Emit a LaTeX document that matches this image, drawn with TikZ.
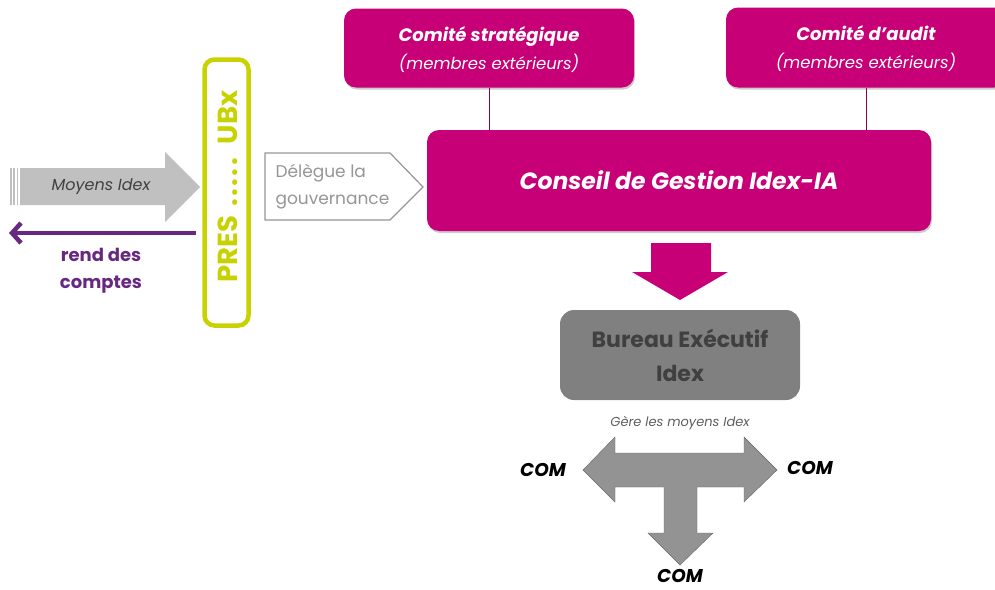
\documentclass[tikz,border=0pt]{standalone}
\usepackage{fontspec}
\setmainfont{Poppins}
\usepackage{tikz}
\usetikzlibrary{%
  arrows.meta,%
  shadows
}
\definecolor{idexmagenta}{RGB}{199,0,119}
\definecolor{idexpurple}{RGB}{104,40,130}
\definecolor{idexlime}{RGB}{200,210,0}
\definecolor{boxgrey}{RGB}{128,128,128}
\definecolor{textgrey}{RGB}{64,64,64}
\definecolor{arrowgrey}{RGB}{192,192,192}
\definecolor{lightgrey}{RGB}{150,150,150}
\tikzset{
  comite/.style={fill=idexmagenta,rounded corners=12pt,text=white,align=center,
    drop shadow={shadow xshift=1pt,shadow yshift=-2pt,fill=black!40}},
  comitetext/.style={font=\fontsize{16.5}{28}\selectfont},
  com/.style={font=\fontsize{18.5}{18.5}\selectfont\bfseries\itshape}
}

\begin{document}
\begin{tikzpicture}[x=1pt,y=-1pt]
      \useasboundingbox (0,0) rectangle (995,589);
      \node (strat) [comite,comitetext,minimum width=290,minimum height=79] at (489,48)
        {\rule{0pt}{18pt}\fontsize{18}{28}\selectfont\bfseries\itshape Comité stratégique\\\itshape (membres extérieurs)};
      \node (audit) [comite,comitetext,minimum width=280,minimum height=80] at (866,47.5)
        {\rule{0pt}{18pt}\fontsize{18}{28}\selectfont\bfseries\itshape Comité d’audit\\\itshape (membres extérieurs)};
      \node (conseil) [comite,minimum width=504,minimum height=101,font=\fontsize{23.5}{23.5}\selectfont\bfseries\itshape] at (679,180.5)
        {Conseil de Gestion Idex-IA};
      \draw [idexmagenta!70!black] (strat.south) -- (strat.south |- conseil.north);
      \draw [idexmagenta!70!black] (audit.south) -- (audit.south |- conseil.north);
      \fill [idexmagenta] (651,243) -- (711,243) -- (711,272) -- (728,272) -- (680,300)
        -- (632,272) -- (651,272) -- cycle;
      \node (bureau) [fill=boxgrey,rounded corners=14pt,minimum width=240,minimum height=90,align=center,
        text=textgrey,font=\fontsize{22}{34}\selectfont\bfseries] at (680,355) {Bureau Exécutif\\Idex};
      \node (gere) [text=textgrey!85,font=\fontsize{13}{13}\selectfont\itshape] at (680,423) {Gère les moyens Idex};
      \filldraw [fill=boxgrey!85,draw=boxgrey!80!black] (583,470) -- (615,437) -- (615,453) -- (744,453) -- (744,437)
        -- (777,470) -- (744,502) -- (744,487) -- (697,487) -- (697,533) -- (713,533) -- (680,565)
        -- (648,533) -- (664,533) -- (664,487) -- (615,487) -- (615,502) -- cycle;
      \node (comw) [com] at (543,470) {COM};
      \node (come) [com] at (810,468) {COM};
      \node (coms) [com] at (680,576) {COM};
      \fill [arrowgrey] (20,168) -- (165,168) -- (165,152) -- (200,187) -- (165,222) -- (165,205) -- (20,205) -- cycle;
      \foreach \x in {11,14,17.5}
        \draw [arrowgrey,line width=1.6] (\x,168) -- (\x,205);
      \node (moyens) [text=textgrey,font=\fontsize{16}{16}\selectfont\itshape] at (101,187) {Moyens Idex};
      \coordinate (rendfrom) at (196,233);
      \coordinate (rendto) at (9,233);
      \draw [idexpurple,line width=4.5,-{Straight Barb[length=9pt,width=20pt]}] (rendfrom) -- (rendto);
      \node (rend) [text=idexpurple,align=center,font=\fontsize{18}{27}\selectfont\bfseries] at (101,271) {rend des\\comptes};
      \node (pres) [draw=idexlime,line width=4.5,rounded corners=10pt,fill=white,rotate=90,
        minimum width=266,minimum height=44] at (226.5,192.5) {};
      \node (prestext) [text=idexlime,rotate=90,font=\fontsize{27.5}{27.5}\selectfont\bfseries] at (228,186.5)
        {PRES\hspace{9pt}.\hspace{2.5pt}.\hspace{2.5pt}.\hspace{2.5pt}.\hspace{2.5pt}.\hspace{14pt}UBx};
      \draw [lightgrey,line width=1.2,fill=white] (265,153) -- (390,153) -- (423,187) -- (390,220) -- (265,220) -- cycle;
      \node (delegue) [anchor=west,text=lightgrey,align=left,font=\fontsize{17}{27}\selectfont] at (272,187)
        {Délègue la\\gouvernance};
    \end{tikzpicture}
\end{document}
